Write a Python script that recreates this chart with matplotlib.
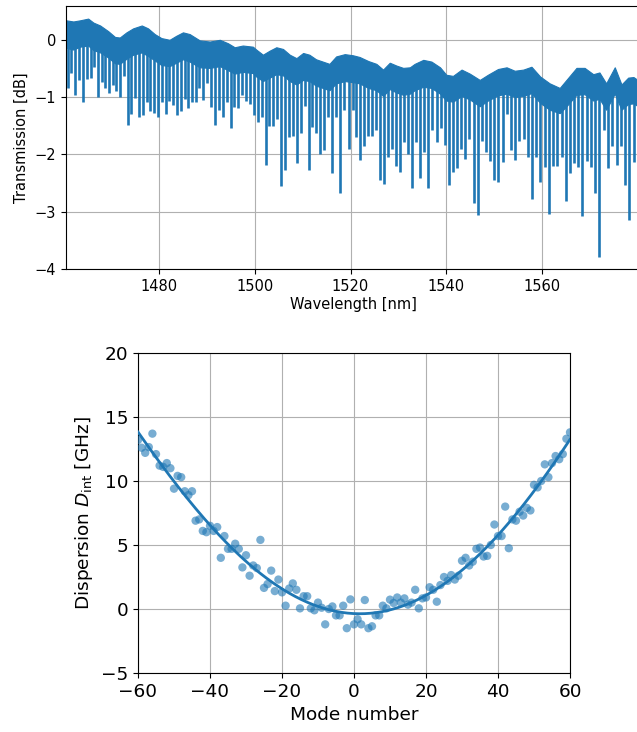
import numpy as np
import matplotlib
matplotlib.use('Agg')
import matplotlib.pyplot as plt

# --- top panel: transmission spectrum ---
# upper edge of the trace
env_wl = [1460.6, 1462.1, 1463.5, 1465.2, 1466.3, 1467.7, 1469.4, 1470.8, 1471.8, 1473.2,
          1474.6, 1476.4, 1477.7, 1479.1, 1480.5, 1482.2, 1483.6, 1485.0, 1486.4, 1488.5,
          1490.6, 1492.7, 1494.4, 1495.8, 1497.5, 1499.6, 1500.3, 1501.7, 1503.1, 1504.5,
          1505.9, 1507.3, 1508.7, 1510.1, 1511.4, 1512.8, 1514.2, 1515.6, 1517.0, 1518.8,
          1520.5, 1521.9, 1523.7, 1525.4, 1526.8, 1528.2, 1529.6, 1531.0, 1532.4, 1533.4,
          1535.2, 1536.9, 1538.7, 1540.0, 1541.4, 1543.2, 1544.9, 1547.0, 1548.7, 1550.8,
          1552.6, 1554.3, 1556.1, 1557.8, 1559.6, 1561.6, 1563.7, 1565.1, 1567.2, 1568.9,
          1570.7, 1572.0, 1573.4, 1575.2, 1576.6, 1578.0, 1579.1, 1580.5]
env_hi = [0.34, 0.32, 0.34, 0.37, 0.30, 0.25, 0.15, 0.05, 0.04, 0.13,
          0.20, 0.25, 0.20, 0.10, 0.03, 0.00, 0.07, 0.13, 0.10, -0.01,
          -0.03, 0.00, -0.06, -0.13, -0.10, -0.12, -0.17, -0.26, -0.19, -0.13,
          -0.16, -0.26, -0.32, -0.23, -0.26, -0.34, -0.38, -0.42, -0.29, -0.25,
          -0.27, -0.30, -0.37, -0.42, -0.52, -0.40, -0.45, -0.49, -0.48, -0.42,
          -0.35, -0.38, -0.48, -0.61, -0.63, -0.52, -0.59, -0.70, -0.61, -0.51,
          -0.48, -0.54, -0.52, -0.47, -0.64, -0.76, -0.84, -0.70, -0.49, -0.49,
          -0.60, -0.57, -0.76, -0.48, -0.78, -0.66, -0.65, -0.73]
# lower edge of the dense band
env_lo = [-0.14, -0.17, -0.12, -0.10, -0.18, -0.22, -0.31, -0.41, -0.42, -0.33,
          -0.26, -0.22, -0.28, -0.36, -0.44, -0.46, -0.40, -0.34, -0.38, -0.48,
          -0.49, -0.46, -0.53, -0.59, -0.56, -0.58, -0.64, -0.72, -0.66, -0.60,
          -0.62, -0.72, -0.78, -0.70, -0.72, -0.80, -0.84, -0.88, -0.76, -0.72,
          -0.74, -0.76, -0.84, -0.88, -0.98, -0.86, -0.92, -0.96, -0.94, -0.88,
          -0.82, -0.84, -0.94, -1.06, -1.08, -0.98, -1.04, -1.16, -1.06, -0.97,
          -0.94, -1.00, -0.98, -0.93, -1.10, -1.22, -1.28, -1.16, -0.96, -0.95,
          -1.06, -1.03, -1.22, -0.94, -1.22, -1.12, -1.11, -1.18]

# resonance dips: wavelength [nm] and minimum transmission [dB]
dip_wl = [1461.02, 1461.64, 1462.54, 1463.31, 1464.14, 1464.98, 1465.75, 1466.50, 1467.33, 1468.04,
          1468.79, 1469.56, 1470.33, 1471.08, 1471.91, 1472.68, 1473.58, 1474.20, 1475.04, 1475.87,
          1476.64, 1477.48, 1478.16, 1478.93, 1479.77, 1480.60, 1481.37, 1482.12, 1482.89, 1483.73,
          1484.56, 1485.33, 1486.08, 1486.85, 1487.68, 1488.45, 1489.29, 1490.04, 1490.87, 1491.70,
          1492.54, 1493.37, 1494.14, 1494.98, 1495.75, 1496.58, 1497.41, 1498.16, 1498.99, 1499.83,
          1500.66, 1501.43, 1502.27, 1503.04, 1503.87, 1504.70, 1505.54, 1506.29, 1507.12, 1507.95,
          1508.79, 1509.62, 1510.39, 1511.23, 1512.06, 1512.89, 1513.73, 1514.56, 1515.39, 1516.23,
          1517.06, 1517.89, 1518.73, 1519.62, 1520.45, 1521.23, 1522.06, 1522.89, 1523.66, 1524.50,
          1525.39, 1526.23, 1527.06, 1527.89, 1528.73, 1529.56, 1530.39, 1531.23, 1532.06, 1532.89,
          1533.73, 1534.56, 1535.45, 1536.29, 1537.12, 1538.04, 1538.87, 1539.77, 1540.60, 1541.43,
          1542.27, 1543.16, 1543.99, 1544.83, 1545.75, 1546.64, 1547.48, 1548.31, 1549.20, 1550.04,
          1550.87, 1551.79, 1552.68, 1553.52, 1554.41, 1555.25, 1556.16, 1557.00, 1557.89, 1558.79,
          1559.62, 1560.54, 1561.43, 1562.27, 1563.16, 1564.08, 1564.91, 1565.81, 1566.70, 1567.62,
          1568.45, 1569.35, 1570.25, 1571.08, 1572.00, 1572.89, 1573.79, 1574.70, 1575.60, 1576.50,
          1577.33, 1578.25, 1579.14]
dip_db = [-0.84, -0.58, -0.96, -0.70, -1.08, -0.69, -0.67, -0.48, -0.99, -0.73,
          -0.84, -0.93, -0.79, -0.90, -1.00, -0.63, -1.48, -1.30, -1.02, -1.35,
          -1.31, -1.08, -1.25, -1.27, -1.34, -1.08, -1.30, -1.06, -1.13, -1.31,
          -1.25, -1.03, -1.19, -1.08, -1.08, -0.84, -1.05, -0.76, -1.17, -1.48,
          -1.23, -1.35, -1.09, -1.54, -1.17, -1.19, -0.96, -1.06, -1.12, -1.31,
          -1.44, -1.34, -2.18, -1.50, -1.50, -1.38, -2.55, -2.27, -1.69, -1.68,
          -2.15, -1.62, -1.16, -2.27, -1.52, -1.63, -2.00, -1.93, -1.35, -2.33,
          -1.34, -2.68, -1.23, -1.90, -1.22, -1.69, -2.09, -1.85, -1.68, -1.68,
          -1.58, -2.44, -2.51, -2.04, -1.91, -2.21, -2.30, -1.79, -2.00, -2.59,
          -1.79, -2.41, -1.95, -2.59, -1.57, -1.79, -1.54, -1.83, -2.53, -2.30,
          -2.24, -1.91, -2.08, -1.73, -2.84, -3.05, -1.77, -1.95, -2.12, -2.44,
          -2.49, -2.14, -1.29, -1.92, -2.09, -1.77, -1.73, -2.05, -2.78, -2.05,
          -2.49, -2.22, -3.04, -2.21, -2.20, -2.04, -2.82, -2.33, -2.15, -2.22,
          -3.08, -2.12, -2.22, -2.68, -3.79, -1.57, -2.24, -1.85, -2.18, -1.85,
          -2.53, -3.14, -2.14]

# --- bottom panel: integrated dispersion ---
mode = list(range(-60, 61))
dint = [13.2, 12.6, 12.2, 12.65, 13.7, 12.1, 11.2, 11.1, 11.4, 11.0,
        9.4, 10.4, 10.3, 9.2, 8.9, 9.2, 6.9, 7.0, 6.1, 6.0,
        6.5, 6.1, 6.4, 4.0, 5.7, 4.7, 4.7, 5.1, 4.7, 3.25,
        4.2, 2.6, 3.4, 3.2, 5.4, 1.65, 1.95, 3.0, 1.4, 2.3,
        1.3, 0.26, 1.6, 2.0, 1.5, 0.05, 1.0, 1.0, 0.05, -0.1,
        0.5, 0.1, -1.2, 0.0, 0.2, -0.5, -0.5, 0.26, -1.5, 0.75,
        -1.2, -0.8, -1.2, 0.7, -1.5, -1.35, -0.5, -0.5, 0.26, 0.05,
        0.73, 0.47, 0.9, 0.5, 0.83, 0.34, 0.5, 1.5, 0.05, 0.83,
        0.9, 1.7, 1.5, 0.57, 1.87, 2.5, 2.2, 2.65, 2.3, 2.6,
        3.77, 4.0, 3.4, 3.7, 4.7, 4.8, 4.1, 4.15, 5.0, 6.6,
        5.7, 5.7, 8.0, 4.75, 7.0, 6.9, 7.6, 7.3, 7.9, 7.7,
        9.7, 9.5, 10.0, 11.3, 10.3, 11.4, 11.95, 11.7, 12.1, 13.3,
        13.8]

fig = plt.figure(figsize=(6.37, 7.32), dpi=100)

# top axes
ax1 = fig.add_axes([66 / 637, 1 - 269 / 732, 574 / 637, 263 / 732])
ax1.fill_between(env_wl, env_lo, env_hi, color='C0', lw=0.8, zorder=2)
top = np.interp(dip_wl, env_wl, env_lo) + 0.1
ax1.vlines(dip_wl, dip_db, top, color='C0', lw=1.9, zorder=2)
ax1.set_xlim(1460.57, 1580.47)
ax1.set_ylim(-4, 0.59)
ax1.set_xticks([1480, 1500, 1520, 1540, 1560])
ax1.set_yticks([0, -1, -2, -3, -4])
ax1.grid(True)
ax1.set_axisbelow(True)
ax1.tick_params(labelsize=10.5)
ax1.set_xlabel('Wavelength [nm]', fontsize=10.5, labelpad=2)
ax1.set_ylabel('Transmission [dB]', fontsize=10.5)

# bottom axes
ax2 = fig.add_axes([138 / 637, 1 - 673 / 732, 432 / 637, 320 / 732])
ax2.scatter(mode, dint, color='C0', alpha=0.6, s=36, edgecolors='none', zorder=3)
coef = np.polyfit(mode, dint, 4)
mm = np.linspace(-60, 60, 300)
ax2.plot(mm, np.polyval(coef, mm), color='C0', lw=2, zorder=4)
ax2.set_xlim(-60, 60)
ax2.set_ylim(-5, 20)
ax2.set_xticks([-60, -40, -20, 0, 20, 40, 60])
ax2.set_yticks([-5, 0, 5, 10, 15, 20])
ax2.grid(True)
ax2.set_axisbelow(True)
ax2.tick_params(labelsize=13.3)
ax2.set_xlabel('Mode number', fontsize=13.3)
ax2.set_ylabel(r'Dispersion $D_{\mathrm{int}}$ [GHz]', fontsize=13.3)

fig.savefig('out.png', dpi=100)
